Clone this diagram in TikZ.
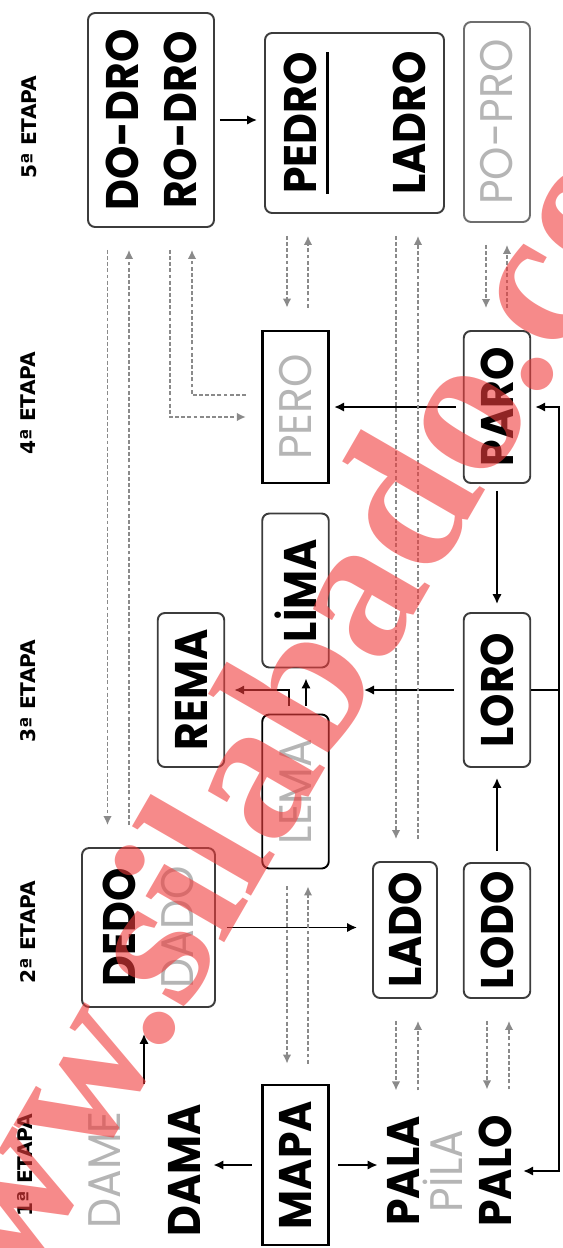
\documentclass[tikz,border=0pt]{standalone}
\usepackage{fontspec}
\usepackage{tikz}
\usetikzlibrary{arrows.meta, calc, positioning}
\newfontfamily\wordfont[FakeStretch=0.93]{Poppins}
\newfontfamily\stagefont{DejaVu Sans}
\newfontfamily\markfont{Liberation Serif}
\definecolor{ghostgray}{HTML}{B5B5B5}
\definecolor{dashgray}{HTML}{8A8A8A}
\definecolor{boxgray}{HTML}{3C3C3C}
\definecolor{popgray}{HTML}{6E6E6E}
\definecolor{markred}{HTML}{F03C3C}
% word with a rule set well below its baseline
\newcommand{\wordline}[1]{\setbox0=\hbox{#1}\rlap{\vrule height -5.5pt depth 7.2pt width \wd0}\box0}

\begin{document}
\begin{tikzpicture}[
    x=0.02cm, y=-0.02cm,
    stage/.style={rotate=90, font=\stagefont\bfseries\fontsize{11.5}{13}\selectfont},
    word/.style={rotate=90, anchor=base, inner sep=2pt,
                 font=\wordfont\bfseries\fontsize{26}{33}\selectfont},
    ghosttext/.style={text=ghostgray, font=\wordfont\fontsize{26}{33}\selectfont},
    ghost/.style={word, ghosttext},
    wordbox/.style={rectangle, draw=boxgray, line width=1.1pt, rounded corners=4pt,
                    rotate=90, inner sep=0pt, minimum width=3.08cm,
                    minimum height=1.33cm, align=center,
                    font=\wordfont\bfseries\fontsize{26}{33}\selectfont},
    ghostbox/.style={wordbox, ghosttext},
    squarebox/.style={wordbox, sharp corners, draw=black, line width=1.6pt},
    arr/.style={-{Latex[length=2mm, width=1.9mm]}, line width=1.1pt},
    dline/.style={-{Latex[length=1.8mm, width=1.7mm]}, dashgray, line width=0.9pt,
                  dash pattern=on 2.2pt off 1.3pt,
                  shorten <=0.44cm, shorten >=0.44cm},
    watermark/.style={anchor=base west, rotate=60, inner sep=0pt, text=markred,
                      opacity=0.6, font=\markfont\bfseries\fontsize{113}{113}\selectfont},
]
\useasboundingbox (0,0) rectangle (562,1248);

% Stage labels
\node[stage] (st5) at (29,127) {5ª ETAPA};
\node[stage] (st4) at (28,403) {4ª ETAPA};
\node[stage] (st3) at (28,691) {3ª ETAPA};
\node[stage] (st2) at (28,932) {2ª ETAPA};
\node[stage] (st1) at (25,1165) {1ª ETAPA};

% 5th stage
\node[wordbox, minimum width=4.28cm, minimum height=2.52cm] (dodro) at (151,120) {DO-DRO\\RO-DRO};
\node[wordbox, minimum width=3.6cm, minimum height=3.58cm] (pedro) at (354.5,123) {\wordline{PEDRO}\\[29pt]LADRO};
\node[ghostbox, draw=popgray, minimum width=4cm, minimum height=1.32cm] (popro) at (497,122) {PO-PRO};

% 4th stage
\node[squarebox, ghosttext, minimum width=3.04cm] (pero) at (295.5,407) {PERO};
\node[wordbox, minimum width=3.04cm] (paro) at (497,407) {PARO};

% 3rd stage
\node[wordbox] (lima) at (295.5,590.5) {LİMA};
\node[wordbox] (rema) at (191,690) {REMA};
\node[ghostbox, draw=black] (lema) at (295.5,791.5) {LEMA};
\node[wordbox] (loro) at (497,690) {LORO};

% 2nd stage
\node[wordbox, minimum width=3.18cm, minimum height=2.66cm] (dedo) at (148.5,927.5) {DEDO\\\textcolor{ghostgray}{\mdseries DADO}};
\node[wordbox, minimum width=2.72cm, minimum height=1.28cm] (lado) at (405,930) {LADO};
\node[wordbox, minimum width=2.7cm] (lodo) at (497,930.5) {LODO};

% 1st stage
\node[ghost] (dame) at (120,1170) {DAME};
\node[word] (dama) at (200,1170) {DAMA};
\node[squarebox, minimum width=3.2cm] (mapa) at (295.5,1165) {MAPA};
\node[word] (pala) at (419,1171) {PALA};
\node[ghost] (pila) at (462,1171) {PİLA};
\node[word] (palo) at (511,1171) {PALO};

% Solid arrows
\draw[arr, shorten <=0.1cm, shorten >=0.14cm] (dodro.south) -- (dodro.south -| pedro.north);
\draw[arr, shorten <=0.14cm, shorten >=0.08cm] (paro.north) -- (pero.south);
\draw[arr, shorten <=0.14cm, shorten >=0.16cm] (paro.west) -- (loro.east);
\draw[arr, shorten <=0.22cm, shorten >=0.2cm] (lodo.east) -- (loro.west);
\coordinate (loroout) at (364,690);
\draw[arr, shorten <=0.18cm] (loro.north) -- (loroout);
\coordinate (rail) at (559,690);
\draw[line width=1.1pt] (loro.south) -- (rail);
\draw[arr, shorten >=0.08cm] (rail) |- (paro.south);
\draw[arr, shorten >=0.16cm] (rail) |- (palo.south);
\draw[arr, shorten <=0.16cm, shorten >=0.18cm] ([xshift=-0.13cm]lema.east) |- (rema.south);
\draw[arr, shorten <=0.16cm, shorten >=0.2cm] ([xshift=0.21cm]lema.east) -- ([xshift=0.21cm]lima.west);
\draw[arr, shorten <=0.22cm, shorten >=0.3cm] (dedo.south) -- (dedo.south -| lado.north);
\draw[arr, shorten <=0.18cm, shorten >=0.19cm] (mapa.north) -- (mapa.north -| dama.south);
\draw[arr, shorten <=0.16cm, shorten >=0.11cm] (mapa.south) -- (mapa.south -| pala.north);
\coordinate (dd) at ($(dame.east)!0.5!(dama.east)$);
\draw[arr, shorten <=0.39cm, shorten >=0.52cm] (dd) -- (dd |- dedo.west);

% Dashed pairs
\draw[dline] ([xshift=-0.87cm]dodro.west) -- ([xshift=-0.87cm]dodro.west |- dedo.east);
\draw[dline] ([xshift=-0.44cm]dodro.west |- dedo.east) -- ([xshift=-0.44cm]dodro.west);
\draw[dline, shorten >=0.3cm] ([xshift=0.38cm]dodro.west) |- ([yshift=-0.2cm]pero.north);
\draw[dline, shorten <=0.3cm] ([yshift=0.24cm]pero.north) -| ([xshift=0.82cm]dodro.west);
\draw[dline] ([xshift=-0.17cm]pero.east |- pedro.west) -- ([xshift=-0.17cm]pero.east);
\draw[dline] ([xshift=0.25cm]pero.east) -- ([xshift=0.25cm]pero.east |- pedro.west);
\draw[dline] ([xshift=-0.18cm]lado.east |- pedro.west) -- ([xshift=-0.18cm]lado.east);
\draw[dline] ([xshift=0.26cm]lado.east) -- ([xshift=0.26cm]lado.east |- pedro.west);
\draw[dline] ([xshift=-0.22cm]paro.east |- popro.west) -- ([xshift=-0.22cm]paro.east);
\draw[dline] ([xshift=0.2cm]paro.east) -- ([xshift=0.2cm]paro.east |- popro.west);
\draw[dline, shorten <=0.34cm, shorten >=0.4cm] ([xshift=-0.17cm]mapa.east |- lema.west) -- ([xshift=-0.17cm]mapa.east);
\draw[dline, shorten <=0.4cm, shorten >=0.34cm] ([xshift=0.25cm]mapa.east) -- ([xshift=0.25cm]mapa.east |- lema.west);
\draw[dline] ([xshift=-0.18cm]lado.west) -- ([xshift=-0.18cm]lado.west |- pala.east);
\draw[dline] ([xshift=0.26cm]lado.west |- pala.east) -- ([xshift=0.26cm]lado.west);
\draw[dline] ([xshift=-0.2cm]lodo.west) -- ([xshift=-0.2cm]lodo.west |- palo.east);
\draw[dline] ([xshift=0.24cm]lodo.west |- palo.east) -- ([xshift=0.24cm]lodo.west);

% Site mark over the picture
\begin{scope}
\clip (0,0) rectangle (562,1248);
\node[watermark] (site) at (-51,1420) {www.silabado.com};
\end{scope}

\end{tikzpicture}
\end{document}
